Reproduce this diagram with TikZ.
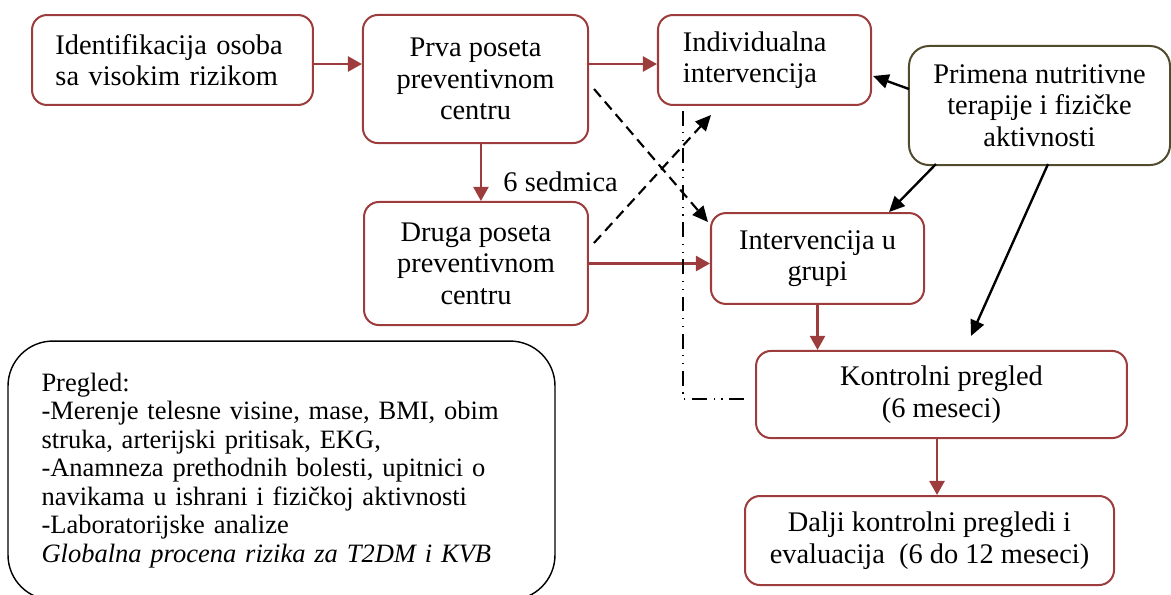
\documentclass[tikz,border=0pt]{standalone}
\usepackage{fontspec}
\setmainfont{Liberation Serif}
\usepackage{xcolor}
\usepackage{tikz}
\usetikzlibrary{arrows.meta,positioning}
\definecolor{boxred}{RGB}{156,60,60}
\definecolor{boxolive}{RGB}{82,76,46}

\begin{document}
\begin{tikzpicture}[
  x=0.4225pt,y=-0.4225pt,
  flow/.style={-{Triangle[length=6pt,width=6.4pt]},draw=boxred,line width=1.1pt},
  hint/.style={-{Triangle[length=6.6pt,width=6pt]},draw=black,line width=1pt},
  cross/.style={hint,line width=0.9pt,dash pattern=on 4.4pt off 2.6pt},
  back/.style={draw=black,line width=0.65pt,
    dash pattern=on 6.3pt off 2.8pt on 0.5pt off 2.8pt on 0.5pt off 2.8pt},
  step box/.style={draw=boxred,line width=0.85pt,rounded corners=6.3pt,
    align=center,inner sep=0pt,font=\fontsize{12}{13.3}\selectfont},
  therapy box/.style={step box,draw=boxolive,rounded corners=8.5pt},
  note box/.style={draw=black,line width=0.6pt,rounded corners=19pt,
    align=left,inner sep=0pt,font=\fontsize{11.2}{12.05}\selectfont}
]
\useasboundingbox (0,0) rectangle (1171,594);

% Upper row: screening, first visit, individual work.
\node[step box,minimum width=118.7pt,minimum height=38pt,text width=98.9pt,align=left]
  (ident) at (172.5,60) {Identifikacija osoba\\sa visokim rizikom};
\node[step box,minimum width=95.1pt,minimum height=54.1pt]
  (first) at (475.5,79) {Prva poseta\\preventivnom\\centru};
\node[step box,minimum width=90pt,minimum height=38pt,text width=68.9pt,align=left]
  (indiv) at (764.5,60) {Individualna\\intervencija};
\node[therapy box,minimum width=110.3pt,minimum height=50.3pt]
  (therapy) at (1039.5,105.5) {Primena nutritivne\\terapije i fizičke\\aktivnosti};

% Middle row: second visit and group work.
\node[step box,minimum width=94.6pt,minimum height=52pt]
  (second) at (476,263.5) {Druga poseta\\preventivnom\\centru};
\node[step box,minimum width=90pt,minimum height=38.4pt]
  (group) at (817.5,258.5) {Intervencija u\\grupi};
\node[font=\fontsize{12}{13.3}\selectfont,anchor=west,inner sep=0pt]
  (weeks) at (503,182) {6 sedmica};

% Follow-up checks.
\node[step box,minimum width=156.7pt,minimum height=36.8pt]
  (check) at (941.5,394.5) {Kontrolni pregled\\(6 meseci)};
\node[step box,minimum width=155.9pt,minimum height=37.6pt]
  (later) at (929.5,540.5) {Dalji kontrolni pregledi i\\evaluacija~ (6 do 12 meseci)};

% Examination summary.
\node[note box,minimum width=231.1pt,minimum height=109.4pt,text width=202.8pt]
  (exam) at (281.5,470.5) {Pregled:\\
  -Merenje telesne visine, mase, BMI, obim\\
  struka, arterijski pritisak, EKG,\\
  -Anamneza prethodnih bolesti, upitnici o\\
  navikama u ishrani i fizičkoj aktivnosti\\
  -Laboratorijske analize\\
  \textit{Globalna procena rizika za T2DM i KVB}};

% Main flow.
\draw[flow] ([shift={(0,4)}]ident.east) -- ([shift={(0,4)}]ident.east -| first.west);
\draw[flow] ([shift={(0,4)}]first.east |- indiv.west) -- ([shift={(0,4)}]indiv.west);
\draw[flow] ([xshift=2.3pt]first.south) -- ([xshift=2.3pt]first.south |- second.north);
\draw[flow] (second.east) -- (second.east -| group.west);
\draw[flow] (group.south) -- (group.south |- check.north);
\draw[flow] ([xshift=-1.9pt]check.south) -- ([xshift=-1.9pt]check.south |- later.north);

% Crossing dashed links.
\draw[cross] ([shift={(5,10)}]first.east) -- ([shift={(-2,10)}]group.north west);
\draw[cross] ([shift={(5,-20.5)}]second.east) -- ([shift={(-53.5,9)}]indiv.south);

% Return line from the check to individual work.
\draw[back] ([shift={(-11,4.5)}]check.west) -| ([shift={(26,0)}]indiv.south west);

% Therapy inputs.
\draw[hint] ([shift={(1,-16.5)}]therapy.west) -- ([shift={(1,16)}]indiv.east);
\draw[hint] ([shift={(28,-2)}]therapy.south west) -- ([shift={(71.5,0)}]group.north);
\draw[hint] ([shift={(8.5,-2)}]therapy.south) -- ([shift={(29.5,-14)}]check.north);

\end{tikzpicture}
\end{document}
